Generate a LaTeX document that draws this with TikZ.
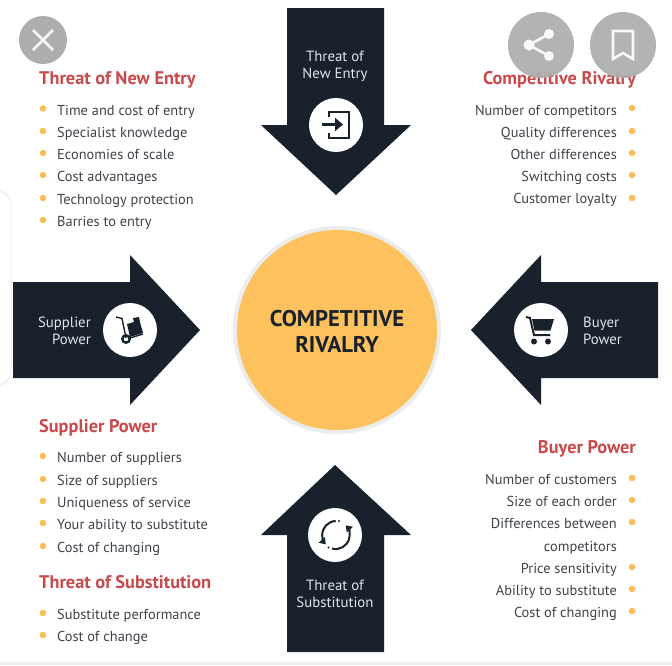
\documentclass[tikz,border=0pt]{standalone}
\usepackage{fontspec}
\usetikzlibrary{arrows.meta}
\setmainfont{PT Sans}

\definecolor{navy}{HTML}{18212C}
\definecolor{sun}{HTML}{FDC25E}
\definecolor{rim}{HTML}{EAEDEC}
\definecolor{heading}{HTML}{C94A4C}
\definecolor{body}{HTML}{3F444A}
\definecolor{overlay}{HTML}{ADADAD}

\tikzset{
	bigarrow/.style={fill=navy},
	iconspot/.style={circle,fill=white,minimum size=54pt,inner sep=0pt},
	arrowtext/.style={text=white!88!navy,font=\fontsize{14.8}{17}\selectfont,align=center,inner sep=0pt},
	title/.style={text=heading,font=\fontsize{18.3}{20}\selectfont\bfseries,inner sep=0pt},
	titleL/.style={title,anchor=base west},
	titleR/.style={title,anchor=base east},
	itemL/.style={text=body,font=\fontsize{14.4}{17}\selectfont,anchor=base west,inner sep=0pt},
	itemR/.style={text=body,font=\fontsize{14.4}{17}\selectfont,anchor=base east,inner sep=0pt},
	dot/.style={circle,fill=sun!90!orange,minimum size=6.5pt,inner sep=0pt},
	button/.style={circle,fill=overlay,inner sep=0pt},
	iconline/.style={draw=navy,line width=1.6pt},
	glyph/.style={draw=white!92!overlay,line width=2.6pt}
}

\begin{document}
\begin{tikzpicture}[x=1pt,y=-1pt]
	\useasboundingbox[fill=white] (0,0) rectangle (672,665);

	\fill[rim] (0,662) rectangle (672,665);
	\draw[rim,line width=1pt,rounded corners=14pt] (-20,191) -- (11,191) -- (11,385) -- (-20,385);

	\node[circle,fill=rim,minimum size=208pt,inner sep=0pt] (rim) at (337,330) {};
	\node[circle,fill=sun,minimum size=200pt,inner sep=0pt] (hub) at (337,330) {};
	\node[text=navy,font=\fontsize{22.7}{26}\selectfont\bfseries,align=center,inner sep=0pt] (hubtext) at (337,331) {COMPETITIVE\\RIVALRY};

	\fill[bigarrow] (287,8) -- (384,8) -- (384,125) -- (411,125) -- (336,195) -- (261,125) -- (287,125) -- cycle;
	\fill[bigarrow] (13,282) -- (130,282) -- (130,255) -- (200,330) -- (130,405) -- (130,378) -- (13,378) -- cycle;
	\fill[bigarrow] (658,282) -- (541,282) -- (541,255) -- (471,330) -- (541,405) -- (541,378) -- (658,378) -- cycle;
	\fill[bigarrow] (287,652) -- (384,652) -- (384,535) -- (411,535) -- (335,465) -- (261,535) -- (287,535) -- cycle;

	\node[arrowtext] (entrytext) at (335,66) {Threat of\\New Entry};
	\node[arrowtext,align=right,anchor=east] (suppliertext) at (91,331) {Supplier\\Power};
	\node[arrowtext,align=left,anchor=west] (buyertext) at (583,331) {Buyer\\Power};
	\node[arrowtext] (substtext) at (335,594) {Threat of\\Substitution};

	\node[iconspot] (entryspot) at (336,125) {};
	\node[iconspot] (supplierspot) at (130,330) {};
	\node[iconspot] (buyerspot) at (541,330) {};
	\node[iconspot] (substspot) at (335,535) {};

	\draw[iconline,line width=2.6pt,line join=miter] (329,117) -- (329,112) -- (349,112) -- (349,138) -- (329,138) -- (329,133);
	\draw[iconline,line width=3pt,-{Triangle[length=8pt,width=13pt]}] (322,124.5) -- (343,124.5);

	\draw[iconline,line width=1.4pt] (116,317) -- (122,318.5) -- (126,338);
	\draw[iconline,line width=1.4pt] (130,338) -- (143,334);
	\fill[navy] (127,324) -- (134,322) -- (133,318) -- (139,317) -- (140,322) -- (143,333) -- (130,337) -- cycle;
	\draw[iconline,line width=2.4pt] (126,339) circle (3.7pt);

	\draw[iconline,line width=2pt] (526,317) -- (530,318) -- (534,335) -- (550,335);
	\fill[navy] (532,319) -- (554,319) -- (550.5,330.5) -- (534.5,330.5) -- cycle;
	\fill[navy] (534,341.5) circle (3pt) (548,341.5) circle (3pt);

	\draw[iconline,line width=2pt,-{Triangle[length=6pt,width=8pt]}] (335.7,521) arc (92:222:14pt);
	\draw[iconline,line width=2pt,-{Triangle[length=6pt,width=8pt]}] (332,548.6) arc (-105:44:14pt);
	\fill[navy] (339,521) circle (1.1pt) (328.5,547.5) circle (1.1pt);

	\node[titleL] (entrytitle) at (39,84) {Threat of New Entry};
	\node[dot] (entrydot1) at (43,108.5) {};
	\node[dot] (entrydot2) at (43,131) {};
	\node[dot] (entrydot3) at (43,153) {};
	\node[dot] (entrydot4) at (43,175) {};
	\node[dot] (entrydot5) at (43,198) {};
	\node[dot] (entrydot6) at (43,220) {};
	\node[itemL] (entry1) at (57,115) {Time and cost of entry};
	\node[itemL] (entry2) at (57,137) {Specialist knowledge};
	\node[itemL] (entry3) at (57,159) {Economies of scale};
	\node[itemL] (entry4) at (57,181) {Cost advantages};
	\node[itemL] (entry5) at (57,204) {Technology protection};
	\node[itemL] (entry6) at (57,226) {Barries to entry};

	\node[titleR] (rivaltitle) at (636,84) {Competitive Rivalry};
	\node[dot] (rivaldot1) at (632,108) {};
	\node[dot] (rivaldot2) at (632,131) {};
	\node[dot] (rivaldot3) at (632,153) {};
	\node[dot] (rivaldot4) at (632,175) {};
	\node[dot] (rivaldot5) at (632,198) {};
	\node[itemR] (rival1) at (617,115) {Number of competitors};
	\node[itemR] (rival2) at (617,137) {Quality differences};
	\node[itemR] (rival3) at (617,159) {Other differences};
	\node[itemR] (rival4) at (617,181) {Switching costs};
	\node[itemR] (rival5) at (617,203) {Customer loyalty};

	\node[titleL] (suppliertitle) at (39,432) {Supplier Power};
	\node[dot] (supplierdot1) at (43,456) {};
	\node[dot] (supplierdot2) at (43,479) {};
	\node[dot] (supplierdot3) at (43,501) {};
	\node[dot] (supplierdot4) at (43,523) {};
	\node[dot] (supplierdot5) at (43,546) {};
	\node[itemL] (supplier1) at (57,462) {Number of suppliers};
	\node[itemL] (supplier2) at (57,485) {Size of suppliers};
	\node[itemL] (supplier3) at (57,507) {Uniqueness of service};
	\node[itemL] (supplier4) at (57,529) {Your ability to substitute};
	\node[itemL] (supplier5) at (57,552) {Cost of changing};

	\node[titleL] (substtitle) at (39,588) {Threat of Substitution};
	\node[dot] (substdot1) at (43,613) {};
	\node[dot] (substdot2) at (43,635) {};
	\node[itemL] (subst1) at (57,619) {Substitute performance};
	\node[itemL] (subst2) at (57,641) {Cost of change};

	\node[titleR] (buyertitle) at (636,453) {Buyer Power};
	\node[dot] (buyerdot1) at (632,478) {};
	\node[dot] (buyerdot2) at (632,500) {};
	\node[dot] (buyerdot3) at (632,522) {};
	\node[dot] (buyerdot4) at (632,567) {};
	\node[dot] (buyerdot5) at (632,589) {};
	\node[dot] (buyerdot6) at (632,611) {};
	\node[itemR] (buyer1) at (617,484) {Number of customers};
	\node[itemR] (buyer2) at (617,506) {Size of each order};
	\node[itemR] (buyer3) at (617,528) {Differences between};
	\node[itemR] (buyer3b) at (617,551) {competitors};
	\node[itemR] (buyer4) at (617,573) {Price sensitivity};
	\node[itemR] (buyer5) at (617,595) {Ability to substitute};
	\node[itemR] (buyer6) at (617,617) {Cost of changing};

	\node[button,minimum size=48pt] (close) at (43,40) {};
	\node[button,minimum size=66pt,opacity=0.92] (share) at (541,45) {};
	\node[button,minimum size=66pt,opacity=0.92] (bookmark) at (623,45) {};

	\draw[glyph] (33,30) -- (53,50) (53,30) -- (33,50);
	\draw[glyph] (549,34) -- (529,45) -- (549,56);
	\fill[white!92!overlay] (549,34) circle (5pt) (529,45) circle (5.5pt) (549,56) circle (5pt);
	\draw[glyph,line join=miter] (613,31) -- (633,31) -- (633,59) -- (623,53) -- (613,59) -- cycle;
\end{tikzpicture}
\end{document}
